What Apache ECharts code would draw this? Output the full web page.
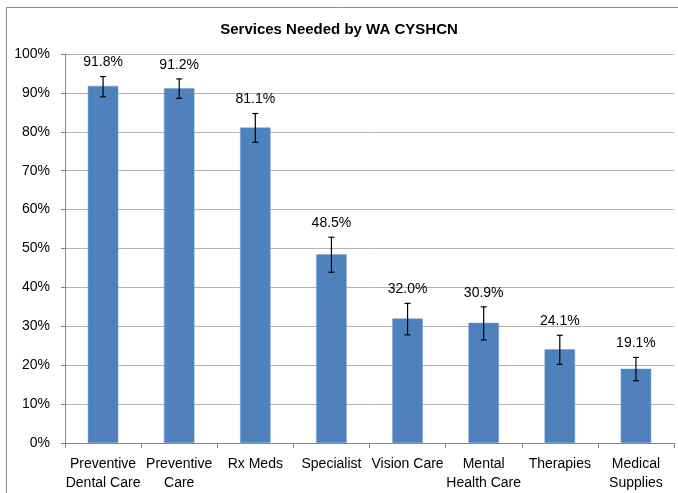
<!DOCTYPE html>
<html lang="en">
<head>
    <meta charset="UTF-8">
    <title>Services Needed by WA CYSHCN</title>
    <script src="https://cdn.jsdelivr.net/npm/echarts@6/dist/echarts.min.js"></script>
    <style>
        html, body { margin: 0; padding: 0; background: #fff; }
        #myChart { width: 678px; height: 493px; }
    </style>
</head>
<body>
<div id="myChart"></div>
<script type="text/javascript">
    var categories = ['Preventive\nDental Care', 'Preventive\nCare', 'Rx Meds', 'Specialist', 'Vision Care', 'Mental\nHealth Care', 'Therapies', 'Medical\nSupplies'];
    var values = [91.8, 91.2, 81.1, 48.5, 32.0, 30.9, 24.1, 19.1];
    // confidence interval
    var lowerCI = [89.0, 88.6, 77.3, 43.9, 27.8, 26.5, 20.2, 16.0];
    var upperCI = [94.2, 93.6, 84.7, 52.9, 35.9, 35.0, 27.7, 22.0];

    var font = 'Liberation Sans';
    var myChart = echarts.init(document.getElementById('myChart'));

    var errData = [];
    for (var i = 0; i < values.length; i++) {
        errData.push([i, lowerCI[i], upperCI[i], values[i]]);
    }

    var option = {
        animation: false,
        title: {
            text: 'Services Needed by WA CYSHCN',
            left: 'center',
            top: 17,
            textStyle: { fontFamily: font, fontSize: 15, fontWeight: 'bold', color: '#000' }
        },
        // chart-area border, runs off the right and bottom edges
        graphic: [{
            type: 'rect',
            shape: { x: 6.5, y: 7.5, width: 760, height: 600 },
            style: { fill: 'none', stroke: '#8c8c8c', lineWidth: 1 }
        }],
        grid: { left: 65, right: 4, top: 54, bottom: 50 },
        xAxis: {
            type: 'category',
            data: categories,
            axisLine: { lineStyle: { color: '#868686' } },
            axisTick: { show: true, length: 5, lineStyle: { color: '#868686' } },
            axisLabel: { fontFamily: font, fontSize: 14, color: '#000', margin: 12, lineHeight: 19, interval: 0 }
        },
        yAxis: {
            type: 'value',
            min: 0,
            max: 100,
            interval: 10,
            axisLine: { show: true, lineStyle: { color: '#868686' } },
            axisTick: { show: true, length: 4, lineStyle: { color: '#868686' } },
            splitLine: { lineStyle: { color: '#b3b3b3' } },
            axisLabel: { fontFamily: font, fontSize: 14, color: '#000', formatter: '{value}%', margin: 15 }
        },
        series: [{
            type: 'bar',
            data: values,
            barWidth: '40%',
            itemStyle: { color: '#4f81bd', borderColor: '#6f9bd1', borderWidth: 0.5 }
        }, {
            type: 'custom',
            data: errData,
            z: 10,
            renderItem: function (params, api) {
                var x = api.value(0);
                var lo = api.coord([x, api.value(1)]);
                var hi = api.coord([x, api.value(2)]);
                var cap = 3;
                var st = { stroke: '#000', lineWidth: 1.2 };
                return {
                    type: 'group',
                    children: [
                        { type: 'line', shape: { x1: hi[0], y1: hi[1], x2: lo[0], y2: lo[1] }, style: st },
                        { type: 'line', shape: { x1: hi[0] - cap, y1: hi[1], x2: hi[0] + cap, y2: hi[1] }, style: st },
                        { type: 'line', shape: { x1: lo[0] - cap, y1: lo[1], x2: lo[0] + cap, y2: lo[1] }, style: st },
                        {
                            type: 'text',
                            style: {
                                text: api.value(3).toFixed(1) + '%',
                                x: hi[0], y: hi[1] - 14,
                                align: 'center', verticalAlign: 'middle',
                                font: '14px ' + font, fill: '#000'
                            }
                        }
                    ]
                };
            }
        }]
    };
    myChart.setOption(option);
</script>
</body>
</html>
